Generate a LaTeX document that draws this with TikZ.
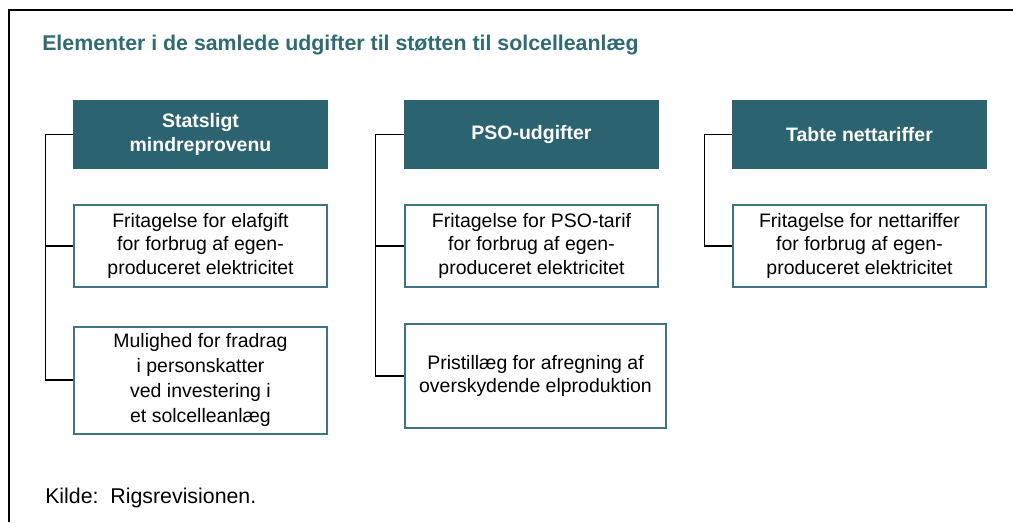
\documentclass[tikz,border=0pt]{standalone}
\usepackage{fontspec}
\setmainfont{Liberation Sans}
\usetikzlibrary{positioning}
\definecolor{teal1}{HTML}{2B6470}
\definecolor{tealline}{HTML}{3D7682}
\definecolor{titlecol}{HTML}{2E6B74}
\tikzset{
head/.style={fill=teal1, text=white, font=\bfseries\fontsize{14.6}{18.5}\selectfont, minimum width=191.25pt, minimum height=51.75pt, align=center, inner sep=0pt}, % the dark boxes on top
item/.style={draw=tealline, line width=1.5pt, fill=white, font=\fontsize{14.6}{17.6}\selectfont, minimum width=190pt, minimum height=61pt, align=center, inner sep=0pt}, % the white boxes
link/.style={draw=black, line width=1.1pt}, % the tree lines
}
\begin{document}
\begin{tikzpicture}[x=0.75pt, y=-0.75pt]
\useasboundingbox (0,0) rectangle (1013,522);
% frame
\draw[line width=1.6pt] (8.7,522) -- (8.7,10.3) -- (1013,10.3);
\node[anchor=base west, text=titlecol, font=\bfseries\fontsize{16}{19}\selectfont, inner sep=0pt] (title) at (42,50) {Elementer i de samlede udgifter til støtten til solcelleanlæg};

\node[head] (stat) at (200.5,134.5) {Statsligt\\mindreprovenu};
\node[head] (pso) at (531.5,134.5) {PSO-udgifter};
\node[head] (tabt) at (859.5,134.5) {Tabte nettariffer};

\node[item, below=26.25pt of stat] (elafgift) {Fritagelse for elafgift\\for forbrug af egen-\\produceret elektricitet};
\node[item, below=28.5pt of elafgift, minimum height=80.25pt, font=\fontsize{14.6}{18.75}\selectfont] (fradrag) {Mulighed for fradrag\\i personskatter\\ved investering i\\et solcelleanlæg};
\node[item, below=26.25pt of pso] (psotarif) {Fritagelse for PSO-tarif\\for forbrug af egen-\\produceret elektricitet};
\node[item, below=26.25pt of psotarif.south west, anchor=north west, minimum width=196pt, minimum height=78.5pt] (pristillaeg) {Pristillæg for afregning af\\overskydende elproduktion};
\node[item, below=26.25pt of tabt] (nettarif) {Fritagelse for nettariffer\\for forbrug af egen-\\produceret elektricitet};

\draw[link] (stat.west) -- ++(-27,0) |- (elafgift.west);
\draw[link] (stat.west) -- ++(-27,0) |- (fradrag.west);
\draw[link] (pso.west) -- ++(-28,0) |- (psotarif.west);
\draw[link] (pso.west) -- ++(-28,0) |- (pristillaeg.west);
\draw[link] (tabt.west) -- ++(-27,0) |- (nettarif.west);

\node[anchor=base west, font=\fontsize{16}{19}\selectfont, inner sep=0pt] (kilde) at (45,503) {Kilde:\ \ Rigsrevisionen.};
\end{tikzpicture}
\end{document}
